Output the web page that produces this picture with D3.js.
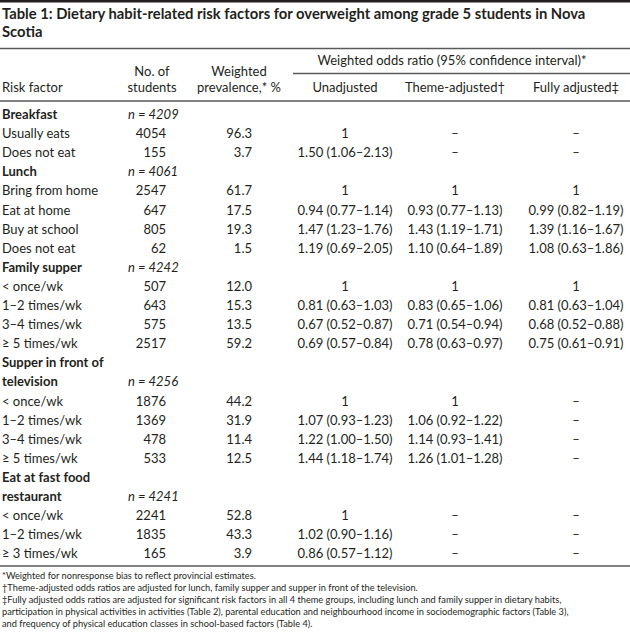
<!DOCTYPE html>
<html><head><meta charset="utf-8">
<script src="https://cdn.jsdelivr.net/npm/d3@7"></script>
<style>
html,body{margin:0;padding:0;background:#fff;}
svg{display:block;}
text{font-family:Lato,"Open Sans",sans-serif;fill:#231f20;}
</style></head>
<body>
<svg id="c" width="630" height="634"></svg>
<script>
// ---- data ----
const titleLines = ["Table 1: Dietary habit-related risk factors for overweight among grade 5 students in Nova", "Scotia"];
const groupNames = ["Breakfast", "Lunch", "Family supper", "Supper in front of|television", "Eat at fast food|restaurant"];
const groupN = [4209, 4061, 4242, 4256, 4241];
const groupLabels = [
  ["Usually eats", "Does not eat"],
  ["Bring from home", "Eat at home", "Buy at school", "Does not eat"],
  ["< once/wk", "1–2 times/wk", "3–4 times/wk", "≥ 5 times/wk"],
  ["< once/wk", "1–2 times/wk", "3–4 times/wk", "≥ 5 times/wk"],
  ["< once/wk", "1–2 times/wk", "≥ 3 times/wk"]
];
const students = [[4054, 155], [2547, 647, 805, 62], [507, 643, 575, 2517], [1876, 1369, 478, 533], [2241, 1835, 165]];
const prevalence = [[96.3, 3.7], [61.7, 17.5, 19.3, 1.5], [12.0, 15.3, 13.5, 59.2], [44.2, 31.9, 11.4, 12.5], [52.8, 43.3, 3.9]];
// odds ratio: 1 = reference, null = not applicable (–), [or, lo, hi]
const unadjusted = [
  [1, [1.50, 1.06, 2.13]],
  [1, [0.94, 0.77, 1.14], [1.47, 1.23, 1.76], [1.19, 0.69, 2.05]],
  [1, [0.81, 0.63, 1.03], [0.67, 0.52, 0.87], [0.69, 0.57, 0.84]],
  [1, [1.07, 0.93, 1.23], [1.22, 1.00, 1.50], [1.44, 1.18, 1.74]],
  [1, [1.02, 0.90, 1.16], [0.86, 0.57, 1.12]]
];
const themeAdjusted = [
  [null, null],
  [1, [0.93, 0.77, 1.13], [1.43, 1.19, 1.71], [1.10, 0.64, 1.89]],
  [1, [0.83, 0.65, 1.06], [0.71, 0.54, 0.94], [0.78, 0.63, 0.97]],
  [1, [1.06, 0.92, 1.22], [1.14, 0.93, 1.41], [1.26, 1.01, 1.28]],
  [null, null, null]
];
const fullyAdjusted = [
  [null, null],
  [1, [0.99, 0.82, 1.19], [1.39, 1.16, 1.67], [1.08, 0.63, 1.86]],
  [1, [0.81, 0.63, 1.04], [0.68, 0.52, 0.88], [0.75, 0.61, 0.91]],
  [null, null, null, null],
  [null, null, null]
];
const headers = {
  risk: "Risk factor",
  students: ["No. of", "students"],
  prev: ["Weighted", "prevalence,* %"],
  span: "Weighted odds ratio (95% confidence interval)*",
  cols: ["Unadjusted", "Theme-adjusted†", "Fully adjusted‡"]
};
const footnotes = [
  "*Weighted for nonresponse bias to reflect provincial estimates.",
  "†Theme-adjusted odds ratios are adjusted for lunch, family supper and supper in front of the television.",
  "‡Fully adjusted odds ratios are adjusted for significant risk factors in all 4 theme groups, including lunch and family supper in dietary habits,",
  "participation in physical activities in activities (Table 2), parental education and neighbourhood income in sociodemographic factors (Table 3),",
  "and frequency of physical education classes in school-based factors (Table 4)."
];

// ---- build rows ----
const rows = [];
groupNames.forEach((g, gi) => {
  const parts = g.split("|");
  parts.forEach((p, pi) => rows.push({type: "group", label: p, n: pi === parts.length - 1 ? groupN[gi] : null}));
  groupLabels[gi].forEach((l, li) => rows.push({
    type: "item", label: l, students: students[gi][li], prev: prevalence[gi][li],
    ors: [unadjusted[gi][li], themeAdjusted[gi][li], fullyAdjusted[gi][li]]
  }));
});
const fmtOR = v => v === null ? "–" : (v === 1 ? "1" : `${v[0].toFixed(2)} (${v[1].toFixed(2)}–${v[2].toFixed(2)})`);

// ---- layout ----
const svg = d3.select("#c");
const W = 630;
const y = d3.scaleLinear().domain([0, rows.length - 1]).range([119, 558.3]);
const colX = d3.scaleOrdinal().domain(["label", "n", "students", "prev", "c0", "c1", "c2"])
  .range([2, 128, 166, 252, 345, 455, 576]);
const BODY = 13;

function line(x1, x2, yy, w, col) {
  svg.append("line").attr("x1", x1).attr("x2", x2).attr("y1", yy).attr("y2", yy)
    .attr("stroke", col).attr("stroke-width", w);
}
line(0, W, 1.2, 2.4, "#231f20");
line(0, W, 48.5, 1.6, "#58595b");
line(293, W, 73.5, 1.6, "#58595b");
line(0, W, 101, 1.6, "#58595b");
line(0, W, 566, 1.6, "#58595b");

// title
const tt = svg.selectAll("text.title").data(titleLines).join("text").attr("class", "title")
  .attr("x", 2).attr("y", (d, i) => 18.5 + i * 18.5)
  .style("font-weight", "bold").style("font-size", "14px").text(d => d);
{
  const w = tt.nodes()[0].getComputedTextLength();
  const fs = 14 * 584 / w;
  tt.style("font-size", fs + "px");
}

// header
const hdr = svg.append("g").style("font-size", BODY + "px");
hdr.append("text").attr("x", 2).attr("y", 92).text(headers.risk);
hdr.selectAll("text.st").data(headers.students).join("text").attr("class", "st")
  .attr("x", 152).attr("y", (d, i) => 76 + i * 16).attr("text-anchor", "middle").text(d => d);
hdr.selectAll("text.pv").data(headers.prev).join("text").attr("class", "pv")
  .attr("x", 239).attr("y", (d, i) => 76 + i * 16).attr("text-anchor", "middle").text(d => d);
hdr.append("text").attr("x", 452).attr("y", 65).attr("text-anchor", "middle").text(headers.span);
hdr.selectAll("text.cl").data(headers.cols).join("text").attr("class", "cl")
  .attr("x", (d, i) => colX("c" + i)).attr("y", 92).attr("text-anchor", "middle").text(d => d);

// body
const body = svg.append("g").style("font-size", BODY + "px");
const rg = body.selectAll("g.row").data(rows).join("g").attr("class", "row")
  .attr("transform", (d, i) => `translate(0,${y(i)})`);
rg.append("text").attr("x", colX("label"))
  .style("font-weight", d => d.type === "group" ? "bold" : null).text(d => d.label);
rg.filter(d => d.type === "group" && d.n !== null).append("text").attr("x", colX("n"))
  .style("font-style", "italic").text(d => `n = ${d.n}`);
const items = rg.filter(d => d.type === "item");
items.append("text").attr("x", colX("students")).attr("text-anchor", "end").text(d => d.students);
items.append("text").attr("x", colX("prev")).attr("text-anchor", "end").text(d => d.prev.toFixed(1));
[0, 1, 2].forEach(k => {
  items.append("text").attr("x", colX("c" + k)).attr("text-anchor", "middle").text(d => fmtOR(d.ors[k]));
});

// footnotes
const fn = svg.selectAll("text.fn").data(footnotes).join("text").attr("class", "fn")
  .attr("x", 2).attr("y", (d, i) => 578.5 + i * 12).style("font-size", "9px").text(d => d);
{
  const w = fn.nodes()[2].getComputedTextLength();
  const fs = 9 * 560 / w;
  fn.style("font-size", fs + "px");
}
</script>
</body></html>
